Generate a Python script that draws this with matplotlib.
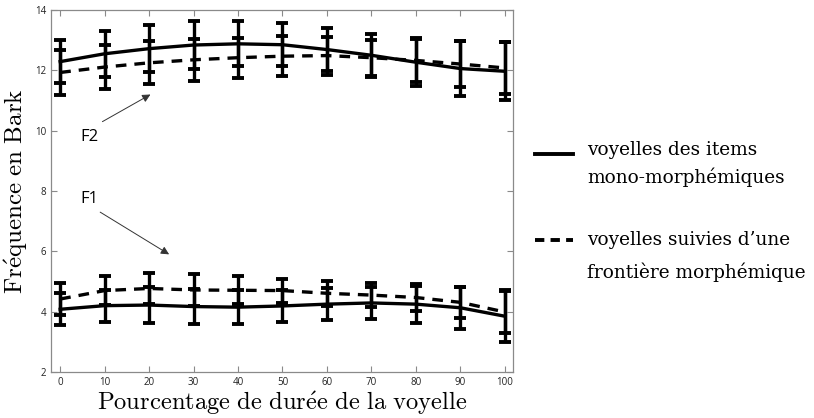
#!/usr/bin/env python3
"""F1/F2 trajectories (Bark) for the two vowel groups."""

import matplotlib

matplotlib.use("Agg")
import matplotlib.pyplot as plt
from matplotlib.lines import Line2D

# percentage of vowel duration
PCT = [0, 10, 20, 30, 40, 50, 60, 70, 80, 90, 100]

# mono-morphemic items (solid)
F2_MONO = [12.29, 12.55, 12.72, 12.84, 12.88, 12.85, 12.69, 12.50, 12.27, 12.06, 11.97]
F2_MONO_ERR = [0.72, 0.76, 0.78, 0.78, 0.75, 0.72, 0.71, 0.72, 0.80, 0.91, 0.96]
F1_MONO = [4.08, 4.20, 4.22, 4.17, 4.15, 4.19, 4.25, 4.29, 4.25, 4.13, 3.85]
F1_MONO_ERR = [0.53, 0.53, 0.60, 0.58, 0.57, 0.52, 0.53, 0.54, 0.61, 0.70, 0.87]

# vowels followed by a morpheme boundary (dashed)
F2_BOUND = [11.93, 12.11, 12.25, 12.35, 12.42, 12.47, 12.49, 12.42, 12.33, 12.21, 12.08]
F2_BOUND_ERR = [0.76, 0.72, 0.71, 0.70, 0.66, 0.66, 0.63, 0.60, 0.70, 0.76, 0.87]
F1_BOUND = [4.42, 4.70, 4.77, 4.72, 4.71, 4.70, 4.61, 4.55, 4.47, 4.31, 3.99]
F1_BOUND_ERR = [0.52, 0.47, 0.50, 0.52, 0.46, 0.40, 0.42, 0.39, 0.45, 0.52, 0.70]

LEGEND_MONO = ["voyelles des items", "mono-morphémiques"]
LEGEND_BOUND = ["voyelles suivies d’une", "frontière morphémique"]

SANS = ["Open Sans", "DejaVu Sans"]
LEG_FONT = "DejaVu Serif"
SPINE = "#8a8a8a"

plt.rcParams["mathtext.fontset"] = "cm"


def draw_series(ax, y, err, ls):
    ax.errorbar(PCT, y, yerr=err, fmt="none", ecolor="black",
                elinewidth=2.4, capsize=4.5, capthick=2.8, zorder=3)
    ax.plot(PCT, y, color="black", linestyle=ls, linewidth=2.4,
            dashes=(3.2, 2.4) if ls == "--" else (None, None), zorder=4)


def legend_entry(fig, y_line, dashed, lines, y_text):
    kw = dict(dashes=(2.4, 1.6)) if dashed else {}
    fig.add_artist(Line2D([0.657, 0.704], [y_line, y_line], color="black",
                          linewidth=2.8, transform=fig.transFigure, **kw))
    for txt, yt in zip(lines, y_text):
        fig.text(0.721, yt, txt, family=LEG_FONT, fontsize=13.3, va="center")


def main():
    fig = plt.figure(figsize=(8.14, 4.18), dpi=100)
    ax = fig.add_axes([0.063, 0.110, 0.567, 0.866])

    draw_series(ax, F2_MONO, F2_MONO_ERR, "-")
    draw_series(ax, F1_MONO, F1_MONO_ERR, "-")
    draw_series(ax, F2_BOUND, F2_BOUND_ERR, "--")
    draw_series(ax, F1_BOUND, F1_BOUND_ERR, "--")

    ax.set_xlim(-2, 101.8)
    ax.set_ylim(2, 14)
    ax.set_xticks(PCT)
    ax.set_yticks([2, 4, 6, 8, 10, 12, 14])
    ax.tick_params(direction="in", top=True, right=True, length=4,
                   width=0.8, color=SPINE, labelsize=7, labelcolor="#222222")
    for lab in ax.get_xticklabels() + ax.get_yticklabels():
        lab.set_family(SANS)
    for spine in ax.spines.values():
        spine.set_color(SPINE)
        spine.set_linewidth(0.9)

    ax.set_xlabel(r"$\mathrm{Pourcentage\ de\ dur\acute{e}e\ de\ la\ voyelle}$",
                  fontsize=17.7, labelpad=1)
    ax.set_ylabel(r"$\mathrm{Fr\acute{e}quence\ en\ Bark}$", fontsize=18,
                  labelpad=4)

    arrow = dict(arrowstyle="-|>", color="#333333", lw=0.7, mutation_scale=12,
                 shrinkA=0, shrinkB=0)
    ax.annotate("", xy=(20.3, 11.2), xytext=(9.5, 10.3), arrowprops=arrow)
    ax.text(4.6, 9.8, "F2", family=SANS, fontsize=12, va="center")
    ax.annotate("", xy=(24.5, 5.9), xytext=(9.0, 7.3), arrowprops=arrow)
    ax.text(4.6, 7.72, "F1", family=SANS, fontsize=12, va="center")

    legend_entry(fig, 1 - 154 / 418, False, LEGEND_MONO,
                 [1 - 150 / 418, 1 - 177 / 418])
    legend_entry(fig, 1 - 240 / 418, True, LEGEND_BOUND,
                 [1 - 240 / 418, 1 - 272 / 418])

    fig.savefig("out.png", dpi=100)
    plt.close(fig)


if __name__ == "__main__":
    main()
